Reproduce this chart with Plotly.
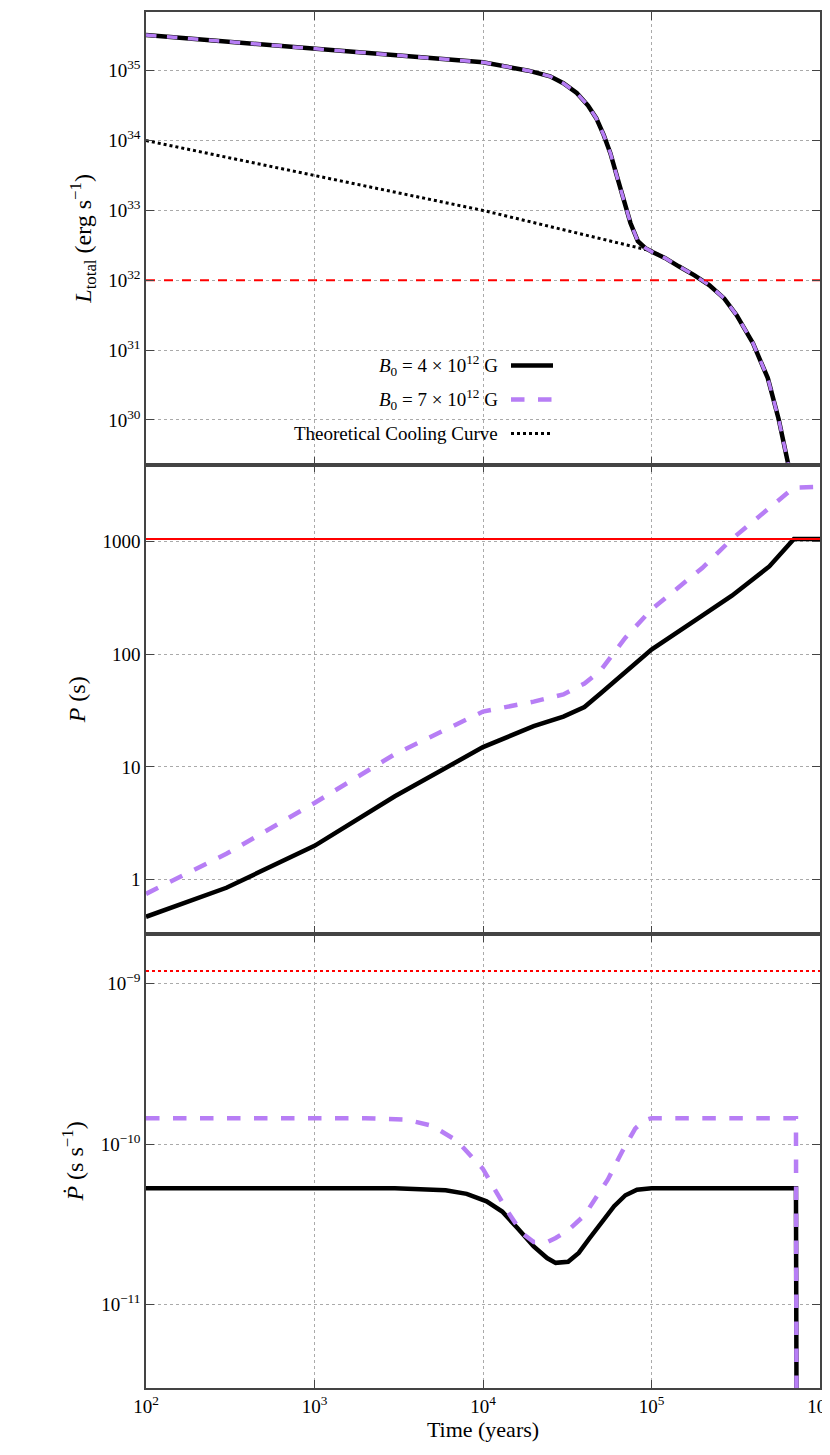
import numpy as np
import plotly.graph_objects as go
from plotly.subplots import make_subplots

# luminosity panel
t_L = [1e2, 1e3, 1e4, 1.86e4, 2.5e4, 3e4, 3.6e4, 4.2e4, 4.7e4, 5.2e4, 5.7e4, 6.3e4, 6.9e4, 7.5e4, 8.3e4, 9.2e4, 1.02e5,
       1.2e5, 1.45e5, 1.8e5, 2.2e5, 2.7e5, 3.2e5, 4e5, 4.9e5, 5.7e5, 6.5e5]
L_b4 = [10**35.51, 10**35.31, 10**35.12, 10**35.0, 10**34.92, 10**34.82, 10**34.68, 10**34.5, 10**34.32, 10**34.08,
        10**33.82, 10**33.45, 10**33.1, 10**32.82, 10**32.56, 10**32.46, 10**32.4,
        10**32.32, 10**32.2, 10**32.07, 10**31.93, 10**31.74, 10**31.5, 10**31.1, 10**30.6, 10**30.0, 10**29.35]
L_b7 = L_b4
t_cool = [1e2, 1e3, 1e4, 1e5, 1.2e5, 1.45e5, 1.8e5, 2.2e5, 2.7e5, 3.2e5, 4e5, 4.9e5, 5.7e5, 6.5e5]
L_cool = [1e34, 10**33.5, 1e33, 10**32.42, 10**32.32, 10**32.2, 10**32.07, 10**31.93, 10**31.74, 10**31.5, 10**31.1,
          10**30.6, 10**30.0, 10**29.35]
L_limit = 1e32

# period panel
t_P = [1e2, 3e2, 1e3, 3e3, 1e4, 2e4, 3e4, 4e4, 5e4, 7e4, 1e5, 2e5, 3e5, 5e5, 7e5, 1e6]
P_b4 = [0.47, 0.85, 2.0, 5.5, 15, 23, 28, 34, 45, 70, 110, 220, 330, 600, 1050, 1050]
P_b7 = [0.75, 1.7, 4.8, 13, 31, 38, 44, 55, 72, 140, 250, 580, 1050, 2000, 3000, 3050]
P_limit = 1050

# period derivative panel
t_Pd = [1e2, 3e3, 6e3, 8e3, 1.05e4, 1.3e4, 1.6e4, 2e4, 2.4e4, 2.7e4, 3.2e4, 3.7e4, 4.3e4, 5e4, 6e4, 7e4, 8.2e4, 1e5, 7.2e5, 7.25e5]
Pd_b4 = [5.3e-11, 5.3e-11, 5.15e-11, 4.9e-11, 4.4e-11, 3.8e-11, 3.0e-11, 2.3e-11, 1.95e-11, 1.82e-11, 1.85e-11, 2.1e-11,
         2.6e-11, 3.2e-11, 4.1e-11, 4.8e-11, 5.2e-11, 5.3e-11, 5.3e-11, 3e-12]
t_Pd7 = [1e2, 2e3, 3.5e3, 5e3, 7e3, 1e4, 1.4e4, 1.7e4, 2e4, 2.4e4, 2.7e4, 3.2e4, 4e4, 5.5e4, 6.7e4, 8e4, 9e4, 1e5, 7.2e5, 7.25e5]
Pd_b7 = [1.45e-10, 1.45e-10, 1.42e-10, 1.3e-10, 1.05e-10, 7e-11, 3.8e-11, 2.8e-11, 2.45e-11, 2.45e-11, 2.6e-11, 2.9e-11,
         3.6e-11, 6e-11, 9e-11, 1.25e-10, 1.4e-10, 1.45e-10, 1.45e-10, 3e-12]
Pd_limit = 1.2e-9

fig = make_subplots(rows=3, cols=1, shared_xaxes=True, vertical_spacing=0)

lw = 4.5
purple = '#b77ef5'
for row, (tx, y4, tx7, y7, lim, ldash) in enumerate([
        (t_L, L_b4, t_L, L_b7, L_limit, 'dash'),
        (t_P, P_b4, t_P, P_b7, P_limit, 'solid'),
        (t_Pd, Pd_b4, t_Pd7, Pd_b7, Pd_limit, 'dot')], start=1):
    fig.add_trace(go.Scatter(x=tx, y=y4, mode='lines', line=dict(color='black', width=lw)), row=row, col=1)
    if row == 1:
        fig.add_trace(go.Scatter(x=t_cool, y=L_cool, mode='lines', line=dict(color='black', width=3, dash='dot')), row=1, col=1)
    fig.add_trace(go.Scatter(x=tx7, y=y7, mode='lines',
                             line=dict(color=purple, width=lw - (1 if row == 1 else 0), dash='dash')), row=row, col=1)
    fig.add_trace(go.Scatter(x=[1e2, 1e6], y=[lim, lim], mode='lines', line=dict(color='red', width=2, dash=ldash)), row=row, col=1)

font = dict(family='Liberation Serif, DejaVu Serif, serif', size=19, color='black')
axis_style = dict(type='log', showline=True, linecolor='#444', linewidth=1.5, mirror='ticks',
                  ticks='inside', ticklen=8, tickcolor='#444', showgrid=True, gridcolor='#aaa', griddash='dot',
                  zeroline=False)

fig.update_xaxes(**axis_style, range=[2, 6],
                 tickvals=[1e2, 1e3, 1e4, 1e5, 1e6],
                 ticktext=['10<sup>2</sup>', '10<sup>3</sup>', '10<sup>4</sup>', '10<sup>5</sup>', '10<sup>6</sup>'])
fig.update_xaxes(title_text='Time (years)', title_standoff=4, title_font=dict(size=22), row=3, col=1)

fig.update_yaxes(**axis_style, row=1, col=1, range=[29.36, 35.84],
                 tickvals=[1e30, 1e31, 1e32, 1e33, 1e34, 1e35],
                 ticktext=['10<sup>%d</sup>' % k for k in range(30, 36)],
                 title_text='<i>L</i><sub>total</sub> (erg s<sup>−1</sup>)')
fig.update_yaxes(**axis_style, row=2, col=1, range=[-0.48, 3.68],
                 tickvals=[1, 10, 100, 1000], ticktext=['1', '10', '100', '1000'],
                 title_text='<i>P</i> (s)')
fig.update_yaxes(**axis_style, row=3, col=1, range=[-11.52, -8.69],
                 tickvals=[1e-11, 1e-10, 1e-9],
                 ticktext=['10<sup>−11</sup>', '10<sup>−10</sup>', '10<sup>−9</sup>'],
                 title_text='<i>Ṗ</i> (s s<sup>−1</sup>)')
fig.update_yaxes(title_font=dict(size=24), title_standoff=10)

fig.update_layout(yaxis=dict(domain=[0.671, 1.0]), yaxis2=dict(domain=[0.330, 0.671]),
                  yaxis3=dict(domain=[0.0, 0.330]))

# legend drawn by hand: text on the left, sample line on the right
legend_rows = [
    ('<i>B</i><sub>0</sub> = 4 × 10<sup>12</sup> G', dict(color='black', width=lw)),
    ('<i>B</i><sub>0</sub> = 7 × 10<sup>12</sup> G', dict(color=purple, width=lw, dash='dash')),
    ('Theoretical Cooling Curve', dict(color='black', width=3, dash='dot')),
]
for i, (txt, ln) in enumerate(legend_rows):
    yy = 1 - (356 + i * 34 - 2) / 1378
    fig.add_annotation(text=txt, xref='paper', yref='paper', x=(492 - 138) / 674, y=yy,
                       xanchor='right', yanchor='middle', showarrow=False, font=font)
    fig.add_shape(type='line', xref='paper', yref='paper', x0=(503 - 138) / 674, x1=(545 - 138) / 674,
                  y0=yy, y1=yy, line=ln)

fig.update_layout(width=830, height=1455, showlegend=False, font=font,
                  plot_bgcolor='white', paper_bgcolor='white',
                  margin=dict(l=138, r=18, t=2, b=75))

fig.write_html("out.html")
